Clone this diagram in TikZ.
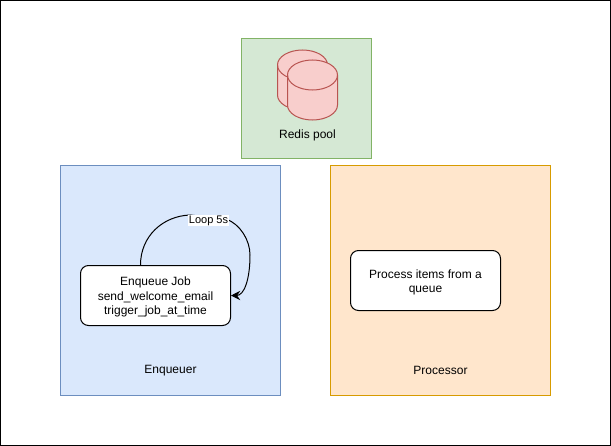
\documentclass[tikz,border=0pt]{standalone}
\usepackage{fontspec}
\setmainfont{Liberation Sans}
\usepackage{tikz}
\usetikzlibrary{arrows.meta,positioning}

\definecolor{greenfill}{HTML}{D5E8D4}
\definecolor{greenline}{HTML}{82B366}
\definecolor{bluefill}{HTML}{DAE8FC}
\definecolor{blueline}{HTML}{6C8EBF}
\definecolor{orangefill}{HTML}{FFE6CC}
\definecolor{orangeline}{HTML}{D79B00}
\definecolor{redfill}{HTML}{F8CECC}
\definecolor{redline}{HTML}{B85450}

\tikzset{
  panel/.style={draw=#1line,fill=#1fill,line width=0.75pt,inner sep=0pt},
  jobbox/.style={draw=black,fill=white,rounded corners=6pt,line width=0.75pt,
    align=center,font=\fontsize{9}{10.8}\selectfont,inner sep=0pt,
    minimum width=112.5pt,minimum height=45pt},
  caption/.style={font=\fontsize{9}{11}\selectfont,inner sep=0pt},
  redisdb/.style={draw=redline,fill=redfill,line width=0.75pt},
}
% cylinder drawn from the left end of its top ellipse
\newcommand{\redisdrum}[2]{
  \draw[redisdb] (#1,#2) .. controls (#1,#2-8.3) and (#1+11.2,#2-15) .. (#1+25,#2-15)
    .. controls (#1+38.8,#2-15) and (#1+50,#2-8.3) .. (#1+50,#2)
    -- (#1+50,#2+30) .. controls (#1+50,#2+38.3) and (#1+38.8,#2+45) .. (#1+25,#2+45)
    .. controls (#1+11.2,#2+45) and (#1,#2+38.3) .. (#1,#2+30) -- cycle;
  \draw[redisdb,fill=none] (#1,#2) .. controls (#1,#2+8.3) and (#1+11.2,#2+15) .. (#1+25,#2+15)
    .. controls (#1+38.8,#2+15) and (#1+50,#2+8.3) .. (#1+50,#2);
}

\begin{document}
\begin{tikzpicture}[x=0.75pt,y=-0.75pt]
      \useasboundingbox (0,0) rectangle (611,446);
      \draw[line width=1.5pt] (0,0) rectangle (611,446);

      \node[panel=green,minimum width=97.5pt,minimum height=90pt] (pool) at (306,98.5) {};
      \node[panel=blue,minimum width=165pt,minimum height=172.5pt] (enq) at (170.5,280.5) {};
      \node[panel=orange,minimum width=165pt,minimum height=172.5pt] (proc) at (440.5,280.5) {};

      % back drum, then front drum
      \redisdrum{277.5}{65}
      \redisdrum{287.5}{75}

      \node[caption] (poollabel) at (307.5,135.5) {Redis pool};
      \node[caption] (enqlabel) at (170.5,370.5) {Enqueuer};
      \node[caption] (proclabel) at (440.5,370.5) {Processor};

      \node[jobbox] (job) at (155.5,295.5)
        {\rule{0pt}{9pt}Enqueue Job\\send\_welcome\_email\\trigger\_job\_at\_time};
      \node[jobbox] (items) at (425.5,280.5)
        {\rule{0pt}{9pt}Process items from a\\queue};

      \coordinate (jobtop) at (140.5,265.5);
      \draw[-{Stealth[length=7pt,width=7pt,inset=2.5pt]},line width=0.75pt]
        (job.north -| jobtop) .. controls (140.5,236) and (163,216) .. (190,215)
        -- (226,219) .. controls (240,224) and (250,240) .. (250,255)
        .. controls (250,280) and (244,295.5) .. (job.east);
      \node[fill=white,inner sep=0.5pt,font=\fontsize{8.25}{10}\selectfont] (looplabel) at (208.5,220.5) {Loop 5s};
    \end{tikzpicture}
\end{document}
